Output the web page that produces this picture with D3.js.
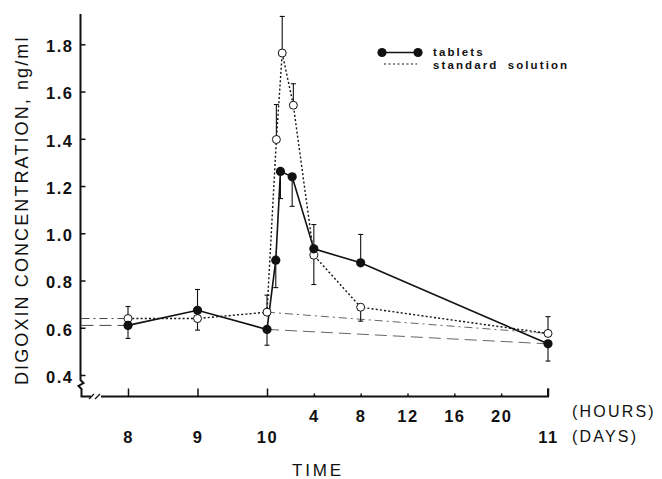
<!DOCTYPE html>
<html>
<head>
<meta charset="utf-8">
<script src="https://cdn.jsdelivr.net/npm/d3@7"></script>
<style>
  body { margin: 0; background: #fff; }
  text { font-family: "Liberation Sans", Arial, sans-serif; fill: #111; }
</style>
</head>
<body>
<div id="chart"></div>
<script>
// time is in hours from the start of day 10 (day 8 = -48, day 9 = -24, day 11 = +24)
var tabletsTime = [-48, -24, 0, 0.75, 1.15, 2.15, 4, 8, 24];
var tabletsConc = [0.61, 0.674, 0.593, 0.886, 1.262, 1.239, 0.934, 0.875, 0.532];
var tabletsErr  = [-0.055, 0.088, -0.067, -0.116, -0.115, -0.125, 0.103, 0.12, -0.073];

var solutionTime = [-48, -24, 0, 0.8, 1.3, 2.25, 4, 8, 24];
var solutionConc = [0.639, 0.639, 0.666, 1.397, 1.763, 1.542, 0.907, 0.687, 0.576];
var solutionErr  = [0.051, -0.049, 0.072, 0.148, 0.155, 0.091, -0.124, -0.059, 0.071];

var yTicks = [0.4, 0.6, 0.8, 1.0, 1.2, 1.4, 1.6, 1.8];
var hourTicks = [4, 8, 12, 16, 20];
var dayTicks = [-48, -24, 0, 24];
var dayLabels = ["8", "9", "10", "11"];

var width = 662, height = 479;
var axisX = 80.5, axisY = 396.5;

var svg = d3.select("#chart")
  .append("svg")
    .attr("width", width)
    .attr("height", height);

// piecewise time scale: days are compressed, hours of day 10 are stretched
var x = d3.scaleLinear()
  .domain([-48, 0, 24])
  .range([128, 267, 548]);

var y = d3.scaleLinear()
  .domain([0.4, 1.8])
  .range([375, 44.3]);

// ---- axes lines with breaks
var axes = svg.append("g")
  .attr("fill", "none")
  .attr("stroke", "#111")
  .attr("stroke-width", 2);

axes.append("path")
  .attr("d", "M" + axisX + ",14 V380 l3,3 l-5,3 l3,3 V" + axisY + " H91");
axes.append("path")
  .attr("d", "M101," + axisY + " H" + x(24) + " v-8");
// little break marks
axes.append("path")
  .attr("stroke-width", 1.3)
  .attr("d", "M89,399 l5,-5 M95,399 l5,-5");

// ---- y axis ticks and labels
var yAxis = svg.append("g")
  .attr("transform", "translate(" + axisX + ",0)")
  .call(d3.axisLeft(y)
    .tickValues(yTicks)
    .tickSize(-5)
    .tickPadding(7)
    .tickFormat(d3.format(".1f")));

yAxis.select(".domain").remove();
yAxis.selectAll("line").attr("stroke", "#111").attr("stroke-width", 1.5);
yAxis.selectAll("text")
  .attr("dy", "0.45em")
  .style("font-size", "16.5px")
  .style("font-weight", "bold")
  .style("letter-spacing", "1.5px")
  .style("fill", "#111");

// ---- x axis: day ticks, hour ticks
var dayAxis = svg.append("g")
  .attr("transform", "translate(0," + axisY + ")")
  .call(d3.axisBottom(x)
    .tickValues(dayTicks)
    .tickSize(-8)
    .tickPadding(35)
    .tickFormat(function(d, i) { return dayLabels[i]; }));

var hourAxis = svg.append("g")
  .attr("transform", "translate(0," + axisY + ")")
  .call(d3.axisBottom(x)
    .tickValues(hourTicks)
    .tickSize(-3)
    .tickPadding(14));

[dayAxis, hourAxis].forEach(function(a) {
  a.select(".domain").remove();
  a.selectAll("line").attr("stroke", "#111").attr("stroke-width", 1.5);
  a.selectAll("text")
    .style("font-size", "16.5px")
    .style("font-weight", "bold")
    .style("letter-spacing", "1.5px")
    .style("fill", "#111");
});

svg.append("text")
  .attr("x", 572)
  .attr("y", 417)
  .style("font-size", "16px")
  .style("letter-spacing", "2.2px")
  .text("(HOURS)");

svg.append("text")
  .attr("x", 572)
  .attr("y", 442)
  .style("font-size", "16px")
  .style("letter-spacing", "2.2px")
  .text("(DAYS)");

svg.append("text")
  .attr("x", 292)
  .attr("y", 476)
  .style("font-size", "17px")
  .style("letter-spacing", "2.8px")
  .text("TIME");

svg.append("text")
  .attr("transform", "translate(28,385) rotate(-90)")
  .style("font-size", "18px")
  .style("letter-spacing", "2.1px")
  .text("DIGOXIN CONCENTRATION, ng/ml");

// ---- build point tables
function makePoints(t, c, e) {
  return t.map(function(d, i) { return {t: d, c: c[i], e: e[i]}; });
}
var tablets = makePoints(tabletsTime, tabletsConc, tabletsErr);
var solution = makePoints(solutionTime, solutionConc, solutionErr);

var line = d3.line()
  .x(function(d) { return x(d.t); })
  .y(function(d) { return y(d.c); });

// faint dashed baseline lines: before day 8 and from day 10 to day 11
function baseLines(pts, dash) {
  var first = pts[0];
  var d10 = pts[2], d11 = pts[pts.length - 1];
  svg.append("line")
    .attr("x1", axisX + 1).attr("x2", x(first.t))
    .attr("y1", y(first.c)).attr("y2", y(first.c))
    .attr("stroke", "#444").attr("stroke-width", 1)
    .attr("stroke-dasharray", dash);
  svg.append("line")
    .attr("x1", x(d10.t)).attr("x2", x(d11.t))
    .attr("y1", y(d10.c)).attr("y2", y(d11.c))
    .attr("stroke", "#666").attr("stroke-width", 1)
    .attr("stroke-dasharray", dash);
}
baseLines(tablets, "12,6");
baseLines(solution, "8,4,2,4");

// ---- error bars
function errorBars(pts) {
  var g = svg.append("g")
    .attr("stroke", "#111")
    .attr("stroke-width", 1.1);
  g.selectAll("line.bar")
    .data(pts)
    .enter()
    .append("line")
      .attr("class", "bar")
      .attr("x1", function(d) { return x(d.t); })
      .attr("x2", function(d) { return x(d.t); })
      .attr("y1", function(d) { return y(d.c); })
      .attr("y2", function(d) { return y(d.c + d.e); });
  g.selectAll("line.cap")
    .data(pts)
    .enter()
    .append("line")
      .attr("class", "cap")
      .attr("x1", function(d) { return x(d.t) - 2.5; })
      .attr("x2", function(d) { return x(d.t) + 2.5; })
      .attr("y1", function(d) { return y(d.c + d.e); })
      .attr("y2", function(d) { return y(d.c + d.e); });
}
errorBars(solution);
errorBars(tablets);

// ---- series lines
svg.append("path")
  .datum(solution)
  .attr("fill", "none")
  .attr("stroke", "#111")
  .attr("stroke-width", 1.4)
  .attr("stroke-dasharray", "2,2.2")
  .attr("d", line);

svg.append("path")
  .datum(tablets)
  .attr("fill", "none")
  .attr("stroke", "#111")
  .attr("stroke-width", 1.6)
  .attr("d", line);

// ---- markers
svg.selectAll("circle.open")
  .data(solution)
  .enter()
  .append("circle")
    .attr("class", "open")
    .attr("cx", function(d) { return x(d.t); })
    .attr("cy", function(d) { return y(d.c); })
    .attr("r", 4)
    .attr("fill", "#fff")
    .attr("stroke", "#111")
    .attr("stroke-width", 1);

svg.selectAll("circle.filled")
  .data(tablets)
  .enter()
  .append("circle")
    .attr("class", "filled")
    .attr("cx", function(d) { return x(d.t); })
    .attr("cy", function(d) { return y(d.c); })
    .attr("r", 4.6)
    .attr("fill", "#111");

// ---- legend
var legend = svg.append("g");
legend.append("line")
  .attr("x1", 382).attr("x2", 418).attr("y1", 52.5).attr("y2", 52.5)
  .attr("stroke", "#111").attr("stroke-width", 1.6);
legend.selectAll("circle")
  .data([382, 418])
  .enter()
  .append("circle")
    .attr("cx", function(d) { return d; })
    .attr("cy", 52.5)
    .attr("r", 4.6)
    .attr("fill", "#111");
legend.append("line")
  .attr("x1", 384).attr("x2", 417).attr("y1", 64).attr("y2", 64)
  .attr("stroke", "#111").attr("stroke-width", 1)
  .attr("stroke-dasharray", "2,2.5");
legend.append("text")
  .attr("x", 433).attr("y", 55.5)
  .style("font-size", "11.5px")
  .style("font-weight", "bold")
  .style("letter-spacing", "2.1px")
  .text("tablets");
legend.append("text")
  .attr("x", 433).attr("y", 68.5)
  .style("font-size", "11.5px")
  .style("font-weight", "bold")
  .style("letter-spacing", "2.1px")
  .style("word-spacing", "4px")
  .text("standard solution");
</script>
</body>
</html>
